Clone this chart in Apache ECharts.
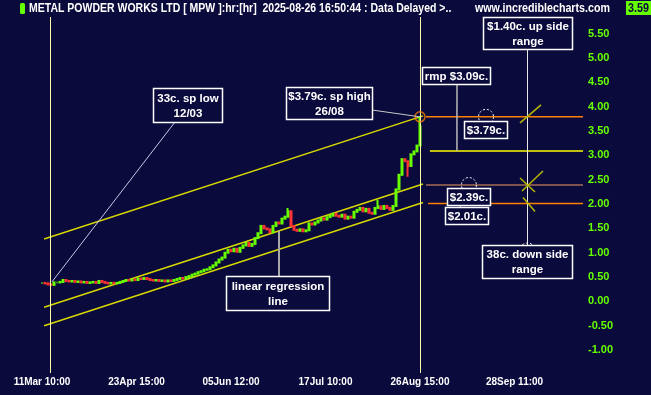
<!DOCTYPE html>
<html><head><meta charset="utf-8">
<script src="https://cdn.jsdelivr.net/npm/echarts@6/dist/echarts.min.js"></script>
<style>html,body{margin:0;padding:0;background:#0a0a3c;}#c{width:651px;height:395px;}</style>
</head><body><div id="c"></div>
<script>
// ---- data ----
const closes = [
0.38,0.37,0.35,0.34,0.39,0.39,0.40,0.44,0.42,0.41,
0.42,0.40,0.41,0.39,0.40,0.38,0.39,0.40,0.38,0.42,
0.40,0.38,0.37,0.38,0.37,0.38,0.40,0.42,0.44,0.43,
0.45,0.44,0.47,0.46,0.48,0.46,0.44,0.43,0.44,0.42,
0.43,0.41,0.43,0.42,0.44,0.46,0.48,0.47,0.50,0.52,
0.55,0.57,0.60,0.62,0.65,0.66,0.70,0.74,0.80,0.86,
0.90,1.00,1.06,1.03,1.08,1.02,1.10,1.15,1.20,1.14,
1.18,1.30,1.40,1.55,1.50,1.48,1.42,1.55,1.62,1.60,
1.70,1.74,1.85,1.55,1.47,1.45,1.48,1.44,1.46,1.60,
1.58,1.62,1.66,1.70,1.68,1.73,1.76,1.80,1.76,1.74,
1.78,1.70,1.74,1.72,1.84,1.88,1.92,1.85,1.90,1.82,
1.80,1.92,1.95,1.90,1.96,1.92,1.88,1.96,2.30,2.60,
2.92,2.88,2.78,3.02,3.08,3.20,3.59];
const highSpikes = [[82,1.92],[112,2.09],[126,3.79]];
const lowSpikes = [[122,2.56]];
const xTickLabels = ['11Mar 10:00','23Apr 15:00','05Jun 12:00','17Jul 10:00','26Aug 15:00','28Sep 11:00'];
const xTickIdx = [0,31.5,63,94.5,126,157.5];
const yTicks = [-1,-0.5,0,0.5,1,1.5,2,2.5,3,3.5,4,4.5,5,5.5];
const regIdx = [0.7,127];
const regVals = [-0.12,2.41];
const upperOffset = 1.40, lowerOffset = -0.38;
const spHigh = 3.79, rmp = 3.09, midEnd = 2.39, lowEnd = 2.01;
const lastPrice = 3.59;
const lowIdx = 2.67, lastIdx = 126;
const title = 'METAL POWDER WORKS LTD [ MPW ]:hr:[hr]  2025-08-26 16:50:44 : Data Delayed >..';

// ---- styling / layout ----
const BG = '#0a0a3c';
const BOLDF = '"Liberation Sans",Arial,sans-serif';
const X_MIN = -14, X_MAX = 180.33;
const crossIdx = 161.67;

const candles = closes.map((c, i) => {
  const o = i > 0 ? closes[i - 1] : c;
  let lo = Math.min(o, c), hi = Math.max(o, c);
  highSpikes.forEach(s => { if (s[0] === i) hi = s[1]; });
  lowSpikes.forEach(s => { if (s[0] === i) lo = s[1]; });
  return [i, o, c, lo, hi];
});
const regAt = i => regVals[0] + (regVals[1] - regVals[0]) * (i - regIdx[0]) / (regIdx[1] - regIdx[0]);
const chan = off => regIdx.map((ix, k) => [ix, regVals[k] + off]);

const notes = [
  {text:'33c. sp low\n12/03', box:[153,88,69,34], from:[175,122], to:[3.3,0.40], lc:'#c8c8e8'},
  {text:'linear regression\nline', box:[226,276,103,34], from:[279,276], to:[79, regAt(79)], lc:'#a8a8a8', lw:2},
  {text:'$3.79c. sp high\n26/08', box:[286,87,86,32], from:[372,110], to:[lastIdx, spHigh], lc:'#c8c8c8'},
  {text:'rmp $3.09c.', box:[422,67,68,17], from:[457,84], to:[138.3, rmp], lc:'#b8b8b8', lw:1.5},
  {text:'$3.79c.', box:[464,121,43,17], circle:[148, spHigh]},
  {text:'$2.39c.', box:[447,188,43,17], circle:[142.3, midEnd]},
  {text:'$2.01c.', box:[445,207,43,17], circle:[141.7, lowEnd]},
  {text:'$1.40c. up side\nrange', box:[483,17,89,32]},
  {text:'38c. down side\nrange', box:[482,245,90,33]}
];
const crosses = [
  {v: spHigh, segs: [[-7,6,14,-12]]},
  {v: midEnd, segs: [[-5,6,16,-14],[-7,-7,8,7]]},
  {v: lowEnd, segs: [[-4,-6,8,8]]}
];

function renderNotes(params, api) {
  const ch = [];
  const P = (i, v) => api.coord([i, v]);
  notes.forEach(n => {
    if (n.to) {
      const t = P(n.to[0], n.to[1]);
      ch.push({type:'line', shape:{x1:n.from[0], y1:n.from[1], x2:t[0], y2:t[1]}, style:{stroke:n.lc, lineWidth:n.lw || 1}});
    }
  });
  const cx = Math.round(P(crossIdx, 0)[0]) + 0.5;
  const up = notes[7].box, dn = notes[8].box;
  ch.push({type:'line', shape:{x1:cx, y1:up[1] + up[3], x2:cx, y2:dn[1]}, style:{stroke:'#e8e8e8', lineWidth:1}});
  crosses.forEach(c => {
    const p = P(crossIdx, c.v);
    c.segs.forEach(s => ch.push({type:'line', shape:{x1:p[0]+s[0], y1:p[1]+s[1], x2:p[0]+s[2], y2:p[1]+s[3]}, style:{stroke:'#b8b800', lineWidth:1.5}}));
  });
  notes.forEach(n => {
    if (n.circle) {
      const p = P(n.circle[0], n.circle[1]);
      ch.push({type:'circle', shape:{cx:p[0], cy:p[1], r:7.5}, style:{fill:'none', stroke:'#ffffff', lineWidth:1, lineDash:[2,2]}});
    }
  });
  ch.push({type:'circle', shape:{cx:cx, cy:dn[1] + 6, r:8}, style:{fill:'none', stroke:'#ffffff', lineWidth:1, lineDash:[2,2]}});
  notes.forEach(n => {
    const [x, y, w, h] = n.box;
    ch.push({type:'rect', shape:{x:x + 0.5, y:y + 0.5, width:w, height:h}, style:{fill:BG, stroke:'#ffffff', lineWidth:1.5}});
    ch.push({type:'text', style:{text:n.text, x:x + w / 2 + 0.5, y:y + h / 2 + 1, align:'center', verticalAlign:'middle', textAlign:'center', textVerticalAlign:'middle', fill:'#ffffff', font:'bold 11.5px ' + BOLDF, lineHeight:15}});
  });
  return {type:'group', children:ch};
}

const levelLine = (x0, v, color, w) => ({
  type:'line', data:[[x0, v],[X_MAX, v]], symbol:'none', silent:true, z:3,
  lineStyle:{color:color, width:w}
});
const chanLine = off => ({
  type:'line', data:chan(off), symbol:'none', silent:true, z:3,
  lineStyle:{color:'#d8d800', width:1.5}
});

const chart = echarts.init(document.getElementById('c'), null, {renderer:'canvas'});
chart.setOption({
  backgroundColor: BG,
  animation: false,
  grid: {left:0, right:68, top:17, bottom:22, outerBoundsMode:'none'},
  xAxis: {
    type:'value', min:X_MIN, max:X_MAX,
    axisLine:{show:false}, axisTick:{show:false}, splitLine:{show:false},
    axisLabel:{customValues:xTickIdx, formatter:v => { const k = xTickIdx.indexOf(v); return k >= 0 ? xTickLabels[k] : ''; },
      color:'#ffffff', fontWeight:'bold', fontSize:10, fontFamily:BOLDF, margin:4}
  },
  yAxis: {
    type:'value', position:'right', min:-1.47, max:5.84,
    axisLine:{show:false}, axisTick:{show:false}, splitLine:{show:false},
    axisLabel:{customValues:yTicks, formatter:v => v.toFixed(2), color:'#66ff00', fontWeight:'bold', fontSize:11, fontFamily:BOLDF, margin:5}
  },
  graphic: [
    {type:'rect', shape:{x:20, y:3, width:5, height:11, r:1.5}, style:{fill:'#66ff00'}},
    {type:'text', x:29, y:8.5, scaleX:0.875, style:{text:title, x:0, y:0, verticalAlign:'middle', fill:'#ffffff', font:'bold 12px ' + BOLDF}},
    {type:'text', x:475, y:8.5, scaleX:0.89, style:{text:'www.incrediblecharts.com', x:0, y:0, verticalAlign:'middle', fill:'#ffffff', font:'bold 12px ' + BOLDF}},
    {type:'rect', shape:{x:626, y:1, width:25, height:14}, style:{fill:'#66ff00'}},
    {type:'text', x:638.5, y:8.5, scaleX:0.9, style:{text:lastPrice.toFixed(2), x:0, y:0, align:'center', verticalAlign:'middle', fill:BG, font:'bold 12px ' + BOLDF}}
  ],
  series: [
    {
      type:'candlestick', data:candles, encode:{x:0, y:[1,2,3,4]}, barWidth:2, z:4,
      itemStyle:{color:'#66ff00', color0:'#ff3333', borderColor:'#66ff00', borderColor0:'#ff3333', borderWidth:2},
      markLine:{silent:true, symbol:'none', label:{show:false}, lineStyle:{color:'#ffffa8', width:1, type:'solid'},
        data:[{xAxis:lowIdx},{xAxis:lastIdx}]}
    },
    chanLine(upperOffset), chanLine(0), chanLine(lowerOffset),
    levelLine(128, spHigh, '#ff8000', 1.5),
    levelLine(129.3, rmp, '#ffff00', 1.5),
    levelLine(128, midEnd, '#f09a5a', 1.2),
    levelLine(128.7, lowEnd, '#ff8000', 1.5),
    {type:'scatter', data:[[lastIdx, spHigh]], symbol:'circle', symbolSize:10, z:6, silent:true,
      itemStyle:{color:'rgba(0,0,0,0)', borderColor:'#ff8000', borderWidth:1.5}},
    {type:'custom', data:[[0,0]], renderItem:renderNotes, clip:false, z:8, silent:true}
  ]
});
</script></body></html>
